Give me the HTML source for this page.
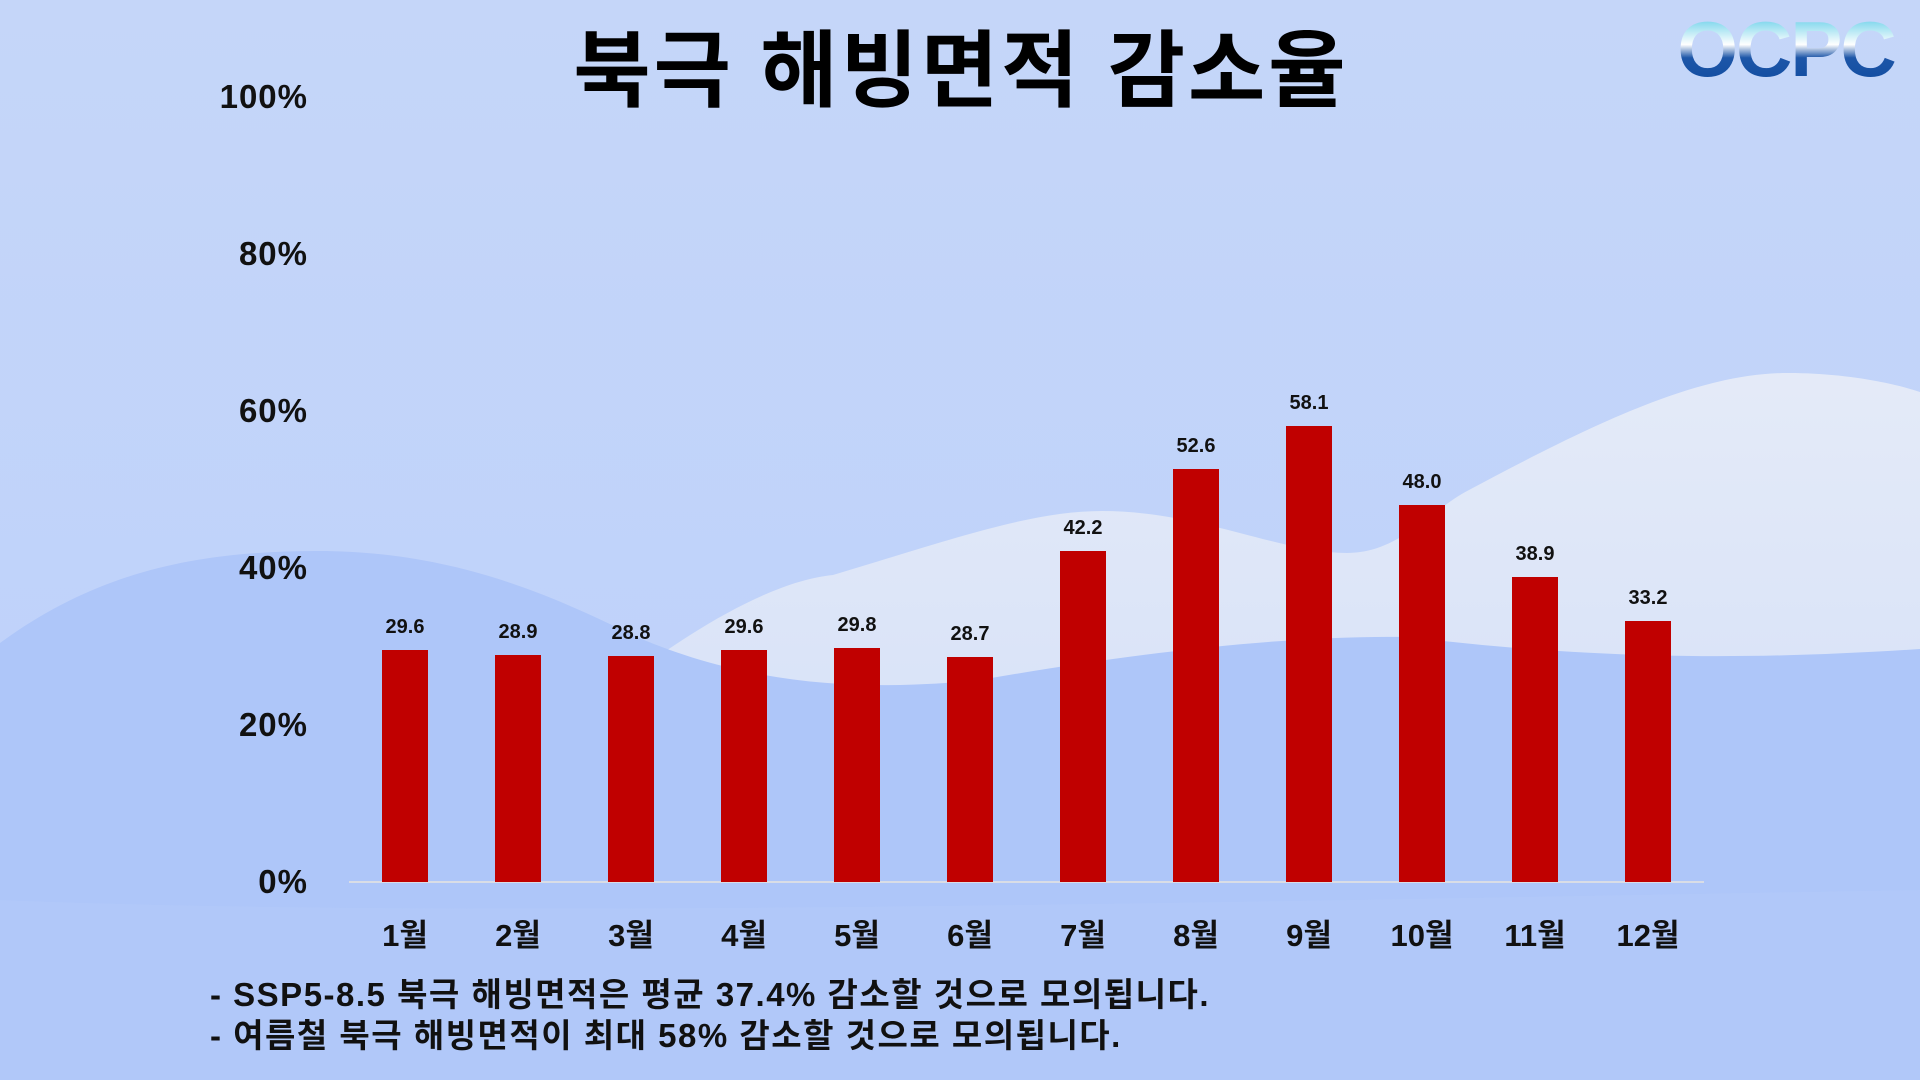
<!DOCTYPE html>
<html><head><meta charset="utf-8"><style>
html,body{margin:0;padding:0;width:1920px;height:1080px;overflow:hidden;background:#c6d7f8;}
svg{display:block}
text{font-family:"Liberation Sans","Noto Sans CJK KR",sans-serif;font-weight:bold;}
</style></head><body>
<svg width="1920" height="1080" viewBox="0 0 1920 1080" xmlns="http://www.w3.org/2000/svg">
<defs>
<linearGradient id="bg" x1="0" y1="0" x2="0" y2="1">
<stop offset="0" stop-color="#c5d6f9"/><stop offset="1" stop-color="#bcd0fa"/>
</linearGradient>
<linearGradient id="w1" x1="0" y1="0" x2="0" y2="1">
<stop offset="0" stop-color="#e8edf8"/><stop offset="1" stop-color="#cfdcf8"/>
</linearGradient>
<linearGradient id="lg" x1="0" y1="0" x2="0" y2="1">
<stop offset="0" stop-color="#2fbde0"/><stop offset="0.45" stop-color="#ffffff"/><stop offset="0.6" stop-color="#1d56a8"/><stop offset="1" stop-color="#0e4a9e"/>
</linearGradient>
</defs>
<rect width="1920" height="1080" fill="url(#bg)"/>
<path d="M600 700 C700 620 780 580 833 575 C950 540 1030 511 1102 511 C1200 511 1280 553 1347 553 C1400 553 1430 510 1469 490 C1600 420 1700 373 1788 373 C1850 373 1900 385 1920 392 L1920 1080 L600 1080 Z" fill="url(#w1)" opacity="0.9"/>
<path d="M0 643 C100 570 200 551 318 551 C460 551 560 600 637 637 C760 690 880 690 980 680 C1150 650 1300 635 1408 637 C1600 660 1750 660 1920 649 L1920 1080 L0 1080 Z" fill="#aec6f9"/>
<path d="M0 900 C500 920 1300 900 1920 890 L1920 1080 L0 1080 Z" fill="#b3c9f9" opacity="0.6"/>
<text x="961" y="100" text-anchor="middle" font-size="84" fill="#000" letter-spacing="3">북극 해빙면적 감소율</text>
<text x="1786" y="76" text-anchor="middle" font-size="78" fill="url(#lg)" letter-spacing="-2">OCPC</text>
<g font-size="33" fill="#111" text-anchor="end" letter-spacing="1">
<text x="308" y="108">100%</text>
<text x="308" y="265">80%</text>
<text x="308" y="422">60%</text>
<text x="308" y="579">40%</text>
<text x="308" y="736">20%</text>
<text x="308" y="893">0%</text>
</g>
<line x1="349" y1="882" x2="1704" y2="882" stroke="#d9dde6" stroke-width="2"/>
<g fill="#c00000">
<rect x="382" y="650" width="46" height="232"/>
<rect x="495" y="655" width="46" height="227"/>
<rect x="608" y="656" width="46" height="226"/>
<rect x="721" y="650" width="46" height="232"/>
<rect x="834" y="648" width="46" height="234"/>
<rect x="947" y="657" width="46" height="225"/>
<rect x="1060" y="551" width="46" height="331"/>
<rect x="1173" y="469" width="46" height="413"/>
<rect x="1286" y="426" width="46" height="456"/>
<rect x="1399" y="505" width="46" height="377"/>
<rect x="1512" y="577" width="46" height="305"/>
<rect x="1625" y="621" width="46" height="261"/>
</g>
<g font-size="20" fill="#111" text-anchor="middle">
<text x="405" y="633">29.6</text>
<text x="518" y="638">28.9</text>
<text x="631" y="639">28.8</text>
<text x="744" y="633">29.6</text>
<text x="857" y="631">29.8</text>
<text x="970" y="640">28.7</text>
<text x="1083" y="534">42.2</text>
<text x="1196" y="452">52.6</text>
<text x="1309" y="409">58.1</text>
<text x="1422" y="488">48.0</text>
<text x="1535" y="560">38.9</text>
<text x="1648" y="604">33.2</text>
</g>
<g font-size="31" fill="#111" text-anchor="middle">
<text x="405" y="946">1월</text>
<text x="518" y="946">2월</text>
<text x="631" y="946">3월</text>
<text x="744" y="946">4월</text>
<text x="857" y="946">5월</text>
<text x="970" y="946">6월</text>
<text x="1083" y="946">7월</text>
<text x="1196" y="946">8월</text>
<text x="1309" y="946">9월</text>
<text x="1422" y="946">10월</text>
<text x="1535" y="946">11월</text>
<text x="1648" y="946">12월</text>
</g>
<g font-size="33" fill="#111" letter-spacing="1.5">
<text x="210" y="1006">- SSP5-8.5 북극 해빙면적은 평균 37.4% 감소할 것으로 모의됩니다.</text>
<text x="210" y="1047">- 여름철 북극 해빙면적이 최대 58% 감소할 것으로 모의됩니다.</text>
</g>
</svg>
</body></html>
